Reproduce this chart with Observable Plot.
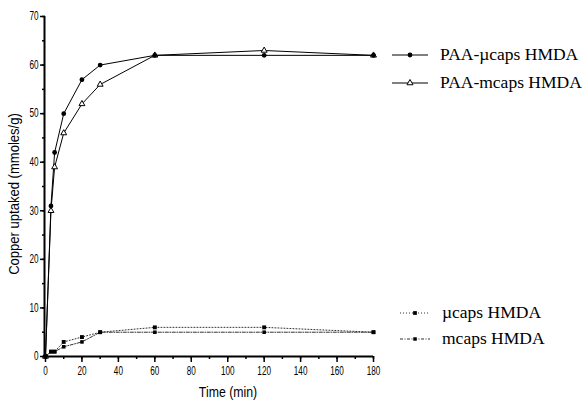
<!DOCTYPE html>
<html><head><meta charset="utf-8">
<script src="https://cdn.jsdelivr.net/npm/d3@7"></script>
<script src="https://cdn.jsdelivr.net/npm/@observablehq/plot@0.6"></script>
<style>body{margin:0;background:#fff}</style>
</head><body><div id="chart"></div>
<script>
// Data
const times      = [0, 3, 5, 10, 20, 30, 60, 120, 180];
const paaMicro   = [0, 31, 42, 50, 57, 60, 62, 62, 62];
const paaMacro   = [0, 30, 39, 46, 52, 56, 62, 63, 62];
const microHMDA  = [0, 1, 1, 3, 4, 5, 6, 6, 5];
const macroHMDA  = [0, 1, 1, 2, 3, 5, 5, 5, 5];
const seriesNames = ["PAA-\u00b5caps HMDA", "PAA-mcaps HMDA", "\u00b5caps HMDA", "mcaps HMDA"];
const xTicks = [0, 20, 40, 60, 80, 100, 120, 140, 160, 180];
const xMinor = [0, 10, 20, 30, 40, 50, 60, 70, 80, 90, 100, 110, 120, 130, 140, 150, 160, 170, 180];
const yTicks = [0, 10, 20, 30, 40, 50, 60, 70];
const yMinor = [0, 5, 10, 15, 20, 25, 30, 35, 40, 45, 50, 55, 60, 65, 70];
const xLabel = "Time (min)";
const yLabel = "Copper uptaked (mmoles/g)";

const rows = vals => times.map((t, i) => ({t, v: vals[i]}));
const dA = rows(paaMicro), dB = rows(paaMacro), dC = rows(microHMDA), dD = rows(macroHMDA);

const dashC = "1,2";
const dashD = "3,1.5,1,1.5";
const sans = "'Liberation Sans', Arial, sans-serif";

const plot = Plot.plot({
  width: 584, height: 402,
  marginLeft: 45, marginRight: 211, marginTop: 16, marginBottom: 46,
  x: {domain: [0, 180]},
  y: {domain: [0, 70]},
  style: {fontFamily: sans, fontSize: "12px", color: "#000", background: "#fff"},
  marks: [
    Plot.axisX({ticks: xMinor, tickSize: 3, text: null, label: null, strokeWidth: 1.5}),
    Plot.axisX({ticks: xTicks, tickSize: 6, tickPadding: 4, label: null, strokeWidth: 1.5, tickFormat: d => String(d)}),
    Plot.axisY({ticks: yMinor, tickSize: 3, text: null, label: null, strokeWidth: 1.5}),
    Plot.axisY({ticks: yTicks, tickSize: 5, tickPadding: 2, label: null, strokeWidth: 1.5, tickFormat: d => String(d)}),
    Plot.ruleY([0], {strokeWidth: 2}),
    Plot.ruleX([0], {strokeWidth: 2, dx: -1}),
    Plot.line(dD, {x: "t", y: "v", stroke: "#333", strokeWidth: 1, strokeDasharray: dashD}),
    Plot.line(dC, {x: "t", y: "v", stroke: "#333", strokeWidth: 1, strokeDasharray: dashC}),
    Plot.dot(dD, {x: "t", y: "v", symbol: "square", r: 2, fill: "#000"}),
    Plot.dot(dC, {x: "t", y: "v", symbol: "square", r: 2.2, fill: "#000"}),
    Plot.line(dB, {x: "t", y: "v", stroke: "#000", strokeWidth: 1}),
    Plot.line(dA, {x: "t", y: "v", stroke: "#000", strokeWidth: 1}),
    Plot.dot(dB, {x: "t", y: "v", symbol: "triangle", r: 2.2, fill: "#fff", stroke: "#000", strokeWidth: 1}),
    Plot.dot(dA, {x: "t", y: "v", symbol: "circle", r: 2.4, fill: "#000", stroke: "none"})
  ]
});

document.getElementById("chart").appendChild(plot);
const svg = d3.select(plot);

// horizontally condense text around its anchor point
function condense(sel, k) {
  sel.each(function() {
    const t = d3.select(this);
    const x = +t.attr("x") || 0, y = +t.attr("y") || 0;
    const tr = t.attr("transform") || "";
    t.attr("transform", `${tr} translate(${x},${y}) scale(${k},1) translate(${-x},${-y})`);
  });
}
condense(svg.selectAll("g[aria-label='x-axis tick label'] text, g[aria-label='y-axis tick label'] text"), 0.68);

// axis titles
const xt = svg.append("text").attr("x", 228).attr("y", 397).attr("text-anchor", "middle")
  .style("font-family", sans).style("font-size", "15px").attr("fill", "#000").text(xLabel);
condense(xt, 0.82);
const yt = svg.append("text").attr("x", 0).attr("y", 0).attr("text-anchor", "middle")
  .attr("transform", "translate(19,194) rotate(-90)")
  .style("font-family", sans).style("font-size", "15px").attr("fill", "#000").text(yLabel);
condense(yt, 0.87);

// legend
const legend = [
  {name: seriesNames[0], y: 55, x0: 392, x1: 428, tx: 440, dash: null, sym: d3.symbolCircle, size: 18, fill: "#000", stroke: "none"},
  {name: seriesNames[1], y: 83, x0: 392, x1: 428, tx: 440, dash: null, sym: d3.symbolTriangle, size: 16, fill: "#fff", stroke: "#000"},
  {name: seriesNames[2], y: 313, x0: 400, x1: 430, tx: 442, dash: dashC, sym: d3.symbolSquare, size: 14, fill: "#000", stroke: "none"},
  {name: seriesNames[3], y: 339, x0: 400, x1: 430, tx: 442, dash: dashD, sym: d3.symbolSquare, size: 12, fill: "#000", stroke: "none"}
];
const lg = svg.append("g").attr("text-anchor", "start");
legend.forEach(l => {
  const ln = lg.append("line").attr("x1", l.x0).attr("x2", l.x1).attr("y1", l.y).attr("y2", l.y)
    .attr("stroke", l.dash ? "#333" : "#000").attr("stroke-width", 1);
  if (l.dash) ln.attr("stroke-dasharray", l.dash);
  lg.append("path").attr("d", d3.symbol(l.sym, l.size)())
    .attr("transform", `translate(${(l.x0 + l.x1) / 2},${l.y})`)
    .attr("fill", l.fill).attr("stroke", l.stroke);
  lg.append("text").attr("x", l.tx).attr("y", l.y + 5).attr("text-anchor", "start")
    .style("font-family", "'Liberation Serif', 'Times New Roman', serif").style("font-size", "17.5px")
    .attr("fill", "#000").text(l.name);
});
</script>
</body></html>
